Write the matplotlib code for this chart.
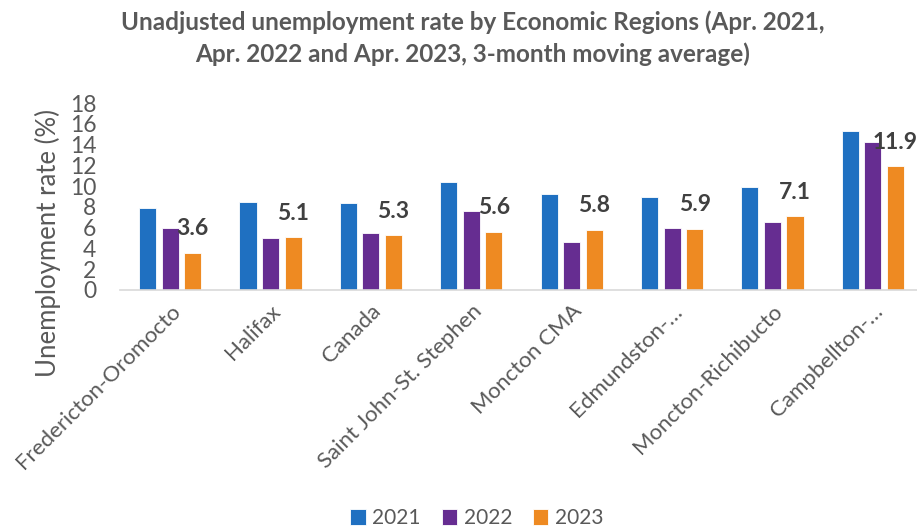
import numpy as np
import matplotlib
matplotlib.use('Agg')
import matplotlib.pyplot as plt

plt.rcParams['font.family'] = ['Lato', 'DejaVu Sans']

regions = ['Fredericton-Oromocto', 'Halifax', 'Canada', 'Saint John-St. Stephen',
           'Moncton CMA', 'Edmundston-\u2026', 'Moncton-Richibucto', 'Campbellton-\u2026']
rate_2021 = [7.9, 8.5, 8.4, 10.4, 9.2, 9.0, 9.9, 15.3]
rate_2022 = [6.0, 5.0, 5.5, 7.6, 4.6, 6.0, 6.5, 14.2]
rate_2023 = [3.6, 5.1, 5.3, 5.6, 5.8, 5.9, 7.1, 11.9]
years = ['2021', '2022', '2023']
colors = ['#1F70C1', '#662D91', '#EE8A22']

grey = '#595959'

fig = plt.figure(figsize=(9.17, 5.31), dpi=100)
ax = fig.add_axes([120 / 917, 1 - 290 / 531, 803 / 917, 187 / 531])

x = np.arange(len(regions))
step = 0.225
width = 0.17
for i, (vals, yr) in enumerate(zip([rate_2021, rate_2022, rate_2023], years)):
    ax.bar(x + (i - 1) * step, vals, width, color=colors[i], label=yr,
           edgecolor='white', linewidth=0.6)

# data labels for 2023 (Excel put them a bit above the bars)
for xi, v in zip(x, rate_2023):
    ax.text(xi + step, v + 2.3, f'{v:.1f}', ha='center', va='center',
            fontsize=16.5, fontweight='bold', color='#404040')

ax.set_xlim(-0.5, len(regions) - 0.5)
ax.set_ylim(0, 18)
ax.set_yticks(range(0, 19, 2))
ax.set_xticks(x)
ax.set_xticklabels(regions, rotation=45, ha='right', rotation_mode='anchor',
                   fontsize=16, color=grey)
ax.tick_params(axis='both', length=0, colors=grey)
ax.tick_params(axis='y', labelsize=16.5, pad=17)
ax.tick_params(axis='x', pad=8)
for s in ['top', 'right', 'left']:
    ax.spines[s].set_visible(False)
ax.spines['bottom'].set_color('#D9D9D9')
ax.spines['bottom'].set_linewidth(1.2)

ax.set_ylabel('Unemployment rate (%)', fontsize=18.5, color=grey)
ax.yaxis.set_label_coords(-0.074, 0.25)

fig.suptitle('Unadjusted unemployment rate by Economic Regions (Apr. 2021,\n'
             'Apr. 2022 and Apr. 2023, 3-month moving average)',
             x=0.515, y=0.98, fontsize=17.5, fontweight='bold', color=grey,
             linespacing=1.4)

fig.legend(loc='lower center', ncol=3, frameon=False, fontsize=15,
           bbox_to_anchor=(0.52, -0.03), handlelength=0.75, handleheight=0.75,
           handletextpad=0.3, columnspacing=1.0, labelcolor=grey)

fig.savefig('out.png', dpi=100)
